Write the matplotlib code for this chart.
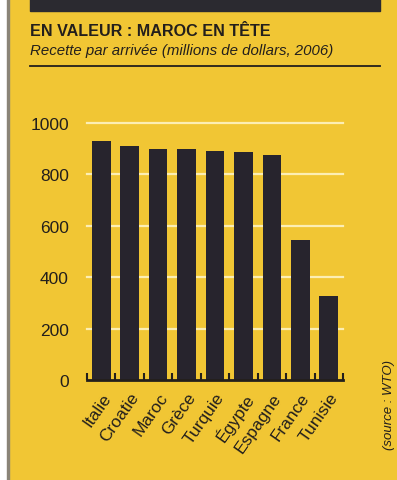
import matplotlib.pyplot as plt
import numpy as np
from matplotlib.patches import Rectangle

countries = ["Italie", "Croatie", "Maroc", "Grèce", "Turquie", "Égypte",
             "Espagne", "France", "Tunisie"]
recette = [930, 910, 898, 898, 890, 886, 875, 543, 328]
y_ticks = [0, 200, 400, 600, 800, 1000]

title = "EN VALEUR : MAROC EN TÊTE"
subtitle = "Recette par arrivée (millions de dollars, 2006)"
source = "(source : WTO)"

yellow = "#F1C634"
bar_color = "#27242D"
ink = "#231F1C"

plt.rcParams["font.family"] = ["Liberation Sans", "DejaVu Sans"]

fig = plt.figure(figsize=(3.97, 4.81), dpi=100)
fig.patch.set_facecolor(yellow)

# paper edge on the left, dark band on top
fig.patches.append(Rectangle((0, 0), 7 / 397, 1, transform=fig.transFigure,
                             color="white", zorder=0))
fig.patches.append(Rectangle((7 / 397, 0), 1.5 / 397, 1, transform=fig.transFigure,
                             color="#8a8478", zorder=0))
fig.patches.append(Rectangle((30 / 397, 1 - 12 / 481), 350 / 397, 12 / 481,
                             transform=fig.transFigure, color="#2b2a30", zorder=1))

fig.text(30 / 397, 1 - 31 / 481, title, fontsize=11.6, fontweight="bold",
         color=ink, va="center", ha="left")
fig.text(30 / 397, 1 - 51 / 481, subtitle, fontsize=10.8, style="italic",
         color=ink, va="center", ha="left")
fig.add_artist(plt.Line2D([30 / 397, 380 / 397], [1 - 67 / 481] * 2,
                          color=ink, linewidth=1.3))
fig.text(389 / 397, 1 - 405 / 481, source, fontsize=9.5, style="italic",
         rotation=90, color=ink, va="center", ha="center")

ax = fig.add_axes([87 / 397, 1 - 381 / 481, 256 / 397, 257 / 481])
ax.set_facecolor("none")

x = np.arange(len(countries))
ax.bar(x, recette, width=0.66, color=bar_color, zorder=3)

ax.set_xlim(-0.5, len(countries) - 0.5)
ax.set_ylim(0, 1000)
ax.set_yticks(y_ticks)
ax.set_yticklabels([str(v) for v in y_ticks], fontsize=12.5, color=ink)
ax.tick_params(axis="y", length=0, pad=13)

for v in y_ticks[1:]:
    ax.axhline(v, color="#FFF6CC", linewidth=1.6, alpha=0.85, zorder=1, clip_on=False)

ax.set_xticks(np.arange(len(countries) + 1) - 0.5)
ax.set_xticklabels([])
ax.tick_params(axis="x", which="major", direction="in", length=5, width=1.5,
               color=ink)
ax.set_xticks(x, minor=True)
ax.set_xticklabels(countries, minor=True, rotation=55, ha="right",
                   rotation_mode="anchor", fontsize=12.5, color=ink)
ax.tick_params(axis="x", which="minor", length=0, pad=7)

for side in ["top", "right", "left"]:
    ax.spines[side].set_visible(False)
ax.spines["bottom"].set_linewidth(2)
ax.spines["bottom"].set_color(ink)
ax.spines["bottom"].set_zorder(4)

fig.savefig("out.png", dpi=100, facecolor=fig.get_facecolor())
